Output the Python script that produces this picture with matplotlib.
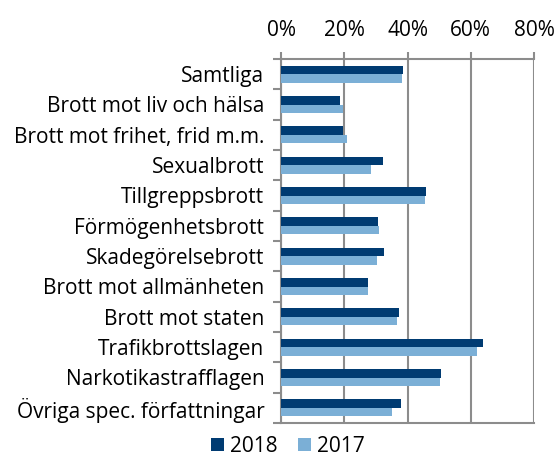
import numpy as np
import matplotlib
matplotlib.use("Agg")
import matplotlib.pyplot as plt
from matplotlib.ticker import FixedLocator, PercentFormatter

plt.rcParams['font.family'] = ['Open Sans', 'DejaVu Sans']

# data (share in percent)
categories = ["Samtliga", "Brott mot liv och hälsa", "Brott mot frihet, frid m.m.",
              "Sexualbrott", "Tillgreppsbrott", "Förmögenhetsbrott",
              "Skadegörelsebrott", "Brott mot allmänheten", "Brott mot staten",
              "Trafikbrottslagen", "Narkotikastrafflagen", "Övriga spec. författningar"]
values_2018 = [38.5, 18.8, 19.6, 32.4, 45.9, 30.8, 32.7, 27.6, 37.2, 63.8, 50.5, 37.8]
values_2017 = [38.2, 19.7, 21.0, 28.6, 45.4, 31.1, 30.5, 27.6, 36.7, 61.9, 50.3, 35.2]
series_labels = ["2018", "2017"]

c2018 = "#003b72"
c2017 = "#7bafd6"
grey = "#8c8c8c"

fig = plt.figure(figsize=(5.56, 4.57), dpi=100)
ax = fig.add_axes([281 / 556, 1 - 423 / 457, 253 / 556, 364 / 457])

y = np.arange(len(categories))
h = 0.28
ax.barh(y - h / 2, values_2018, height=h, color=c2018, label=series_labels[0], zorder=3)
ax.barh(y + h / 2, values_2017, height=h, color=c2017, label=series_labels[1], zorder=3)

ax.set_xlim(0, 80)
ax.set_ylim(len(categories) - 0.5, -0.5)
ax.xaxis.tick_top()
ax.set_xticks([0, 20, 40, 60, 80])
ax.xaxis.set_major_formatter(PercentFormatter(decimals=0))
ax.grid(axis='x', color=grey, linewidth=1.5, zorder=0)

ax.set_yticks(y)
ax.set_yticklabels(categories)
ax.yaxis.set_minor_locator(FixedLocator(np.arange(-0.5, len(categories), 1)))
ax.tick_params(axis='y', which='major', length=0, pad=12, labelsize=15)
ax.tick_params(axis='y', which='minor', length=6, width=1.5, color=grey)
ax.tick_params(axis='x', length=5, width=1.5, color=grey, labelsize=15, pad=8)

for side in ['left', 'top', 'bottom']:
    ax.spines[side].set_color(grey)
    ax.spines[side].set_linewidth(1.5)
ax.spines['right'].set_visible(False)

ax.legend(loc='center', bbox_to_anchor=(288 / 556, 11 / 457), bbox_transform=fig.transFigure,
          ncol=2, frameon=False, fontsize=15, handlelength=0.6, handleheight=0.6,
          handletextpad=0.3, columnspacing=1.0, borderpad=0.1)

fig.savefig("out.png", dpi=100)
